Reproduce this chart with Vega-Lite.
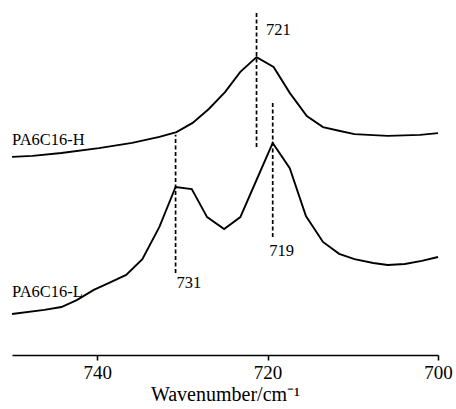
{
  "$schema": "https://vega.github.io/schema/vega-lite/v6.json",
  "width": 426,
  "height": 350,
  "autosize": "none",
  "padding": {"left": 12, "top": 5, "right": 18, "bottom": 54},
  "background": "white",
  "config": {"view": {"stroke": null}, "font": "Liberation Serif"},
  "datasets": {
    "spectra": [
      {"series": "H", "wn": 750.0, "abs": 0.566},
      {"series": "H", "wn": 747.6, "abs": 0.569},
      {"series": "H", "wn": 744.2, "abs": 0.577},
      {"series": "H", "wn": 739.8, "abs": 0.591},
      {"series": "H", "wn": 735.9, "abs": 0.606},
      {"series": "H", "wn": 732.7, "abs": 0.623},
      {"series": "H", "wn": 730.7, "abs": 0.637},
      {"series": "H", "wn": 728.8, "abs": 0.663},
      {"series": "H", "wn": 726.9, "abs": 0.703},
      {"series": "H", "wn": 725.0, "abs": 0.751},
      {"series": "H", "wn": 723.2, "abs": 0.809},
      {"series": "H", "wn": 721.3, "abs": 0.851},
      {"series": "H", "wn": 719.3, "abs": 0.823},
      {"series": "H", "wn": 717.4, "abs": 0.749},
      {"series": "H", "wn": 715.4, "abs": 0.683},
      {"series": "H", "wn": 713.5, "abs": 0.651},
      {"series": "H", "wn": 711.5, "abs": 0.640},
      {"series": "H", "wn": 709.8, "abs": 0.631},
      {"series": "H", "wn": 705.9, "abs": 0.626},
      {"series": "H", "wn": 702.1, "abs": 0.629},
      {"series": "H", "wn": 700.0, "abs": 0.634},
      {"series": "L", "wn": 750.0, "abs": 0.117},
      {"series": "L", "wn": 746.2, "abs": 0.129},
      {"series": "L", "wn": 744.2, "abs": 0.137},
      {"series": "L", "wn": 742.4, "abs": 0.157},
      {"series": "L", "wn": 740.4, "abs": 0.186},
      {"series": "L", "wn": 738.6, "abs": 0.206},
      {"series": "L", "wn": 736.6, "abs": 0.229},
      {"series": "L", "wn": 734.7, "abs": 0.274},
      {"series": "L", "wn": 732.7, "abs": 0.366},
      {"series": "L", "wn": 730.8, "abs": 0.480},
      {"series": "L", "wn": 728.9, "abs": 0.474},
      {"series": "L", "wn": 727.1, "abs": 0.394},
      {"series": "L", "wn": 725.1, "abs": 0.360},
      {"series": "L", "wn": 723.2, "abs": 0.394},
      {"series": "L", "wn": 721.3, "abs": 0.500},
      {"series": "L", "wn": 719.4, "abs": 0.606},
      {"series": "L", "wn": 717.4, "abs": 0.534},
      {"series": "L", "wn": 715.5, "abs": 0.397},
      {"series": "L", "wn": 713.5, "abs": 0.323},
      {"series": "L", "wn": 711.6, "abs": 0.289},
      {"series": "L", "wn": 709.8, "abs": 0.274},
      {"series": "L", "wn": 707.6, "abs": 0.263},
      {"series": "L", "wn": 705.9, "abs": 0.257},
      {"series": "L", "wn": 703.9, "abs": 0.260},
      {"series": "L", "wn": 701.9, "abs": 0.269},
      {"series": "L", "wn": 700.0, "abs": 0.280}
    ],
    "peaks": [
      {"wn": 721.3, "y1": 0.594, "y2": 0.977},
      {"wn": 730.8, "y1": 0.234, "y2": 0.629},
      {"wn": 719.4, "y1": 0.337, "y2": 0.723}
    ],
    "labels": [
      {"wn": 720.2, "y": 0.929, "text": "721"},
      {"wn": 730.7, "y": 0.206, "text": "731"},
      {"wn": 719.8, "y": 0.297, "text": "719"},
      {"wn": 750.0, "y": 0.614, "text": "PA6C16-H"},
      {"wn": 750.0, "y": 0.180, "text": "PA6C16-L"}
    ]
  },
  "layer": [
    {
      "data": {"name": "spectra"},
      "mark": {"type": "line", "color": "black", "strokeWidth": 1.9, "clip": false},
      "encoding": {
        "x": {
          "field": "wn", "type": "quantitative",
          "scale": {"domain": [700, 750], "reverse": true, "nice": false, "zero": false},
          "axis": {
            "values": [740, 720, 700],
            "title": "Wavenumber/cm⁻¹",
            "titleFont": "Liberation Serif",
            "titleFontSize": 20,
            "titleFontWeight": "normal",
            "titleColor": "black",
            "titlePadding": 2,
            "labelFont": "Liberation Serif",
            "labelFontSize": 19,
            "labelColor": "black",
            "labelPadding": 3,
            "labelFlush": false,
            "domainColor": "black",
            "domainWidth": 1.6,
            "tickColor": "black",
            "tickWidth": 1.6,
            "tickSize": 5,
            "grid": false
          }
        },
        "y": {
          "field": "abs", "type": "quantitative",
          "scale": {"domain": [0, 1], "nice": false, "zero": false},
          "axis": null
        },
        "detail": {"field": "series"}
      }
    },
    {
      "data": {"name": "peaks"},
      "mark": {"type": "rule", "color": "black", "strokeWidth": 1.7, "strokeDash": [4, 2.5]},
      "encoding": {
        "x": {"field": "wn", "type": "quantitative"},
        "y": {"field": "y1", "type": "quantitative"},
        "y2": {"field": "y2"}
      }
    },
    {
      "data": {"name": "labels"},
      "mark": {"type": "text", "font": "Liberation Serif", "fontSize": 16.5, "color": "black", "align": "left", "baseline": "middle"},
      "encoding": {
        "x": {"field": "wn", "type": "quantitative"},
        "y": {"field": "y", "type": "quantitative"},
        "text": {"field": "text"}
      }
    }
  ]
}
